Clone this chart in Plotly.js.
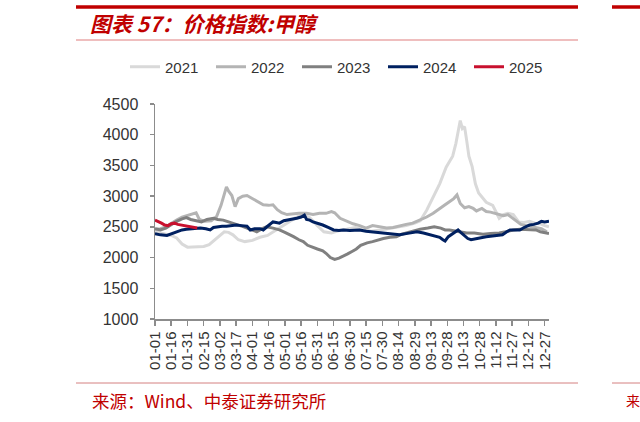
<!DOCTYPE html>
<html><head><meta charset="utf-8">
<script src="https://cdn.plot.ly/plotly-3.0.1.min.js"></script>
<style>html,body{margin:0;padding:0;background:#fff}#c{width:640px;height:422px}</style>
</head><body><div id="c"></div>
<script>
// day-of-year offsets (0 = 01-01)
const tickDays = [0,15,30,45,60,75,90,105,120,135,150,165,180,195,210,225,240,255,270,285,300,315,330,345,360];
const tickLabels = ["01-01","01-16","01-31","02-15","03-02","03-17","04-01","04-16","05-01","05-16","05-31","06-15","06-30","07-15","07-30","08-14","08-29","09-13","09-28","10-13","10-28","11-12","11-27","12-12","12-27"];
const seriesNames = ["2021","2022","2023","2024","2025"];

const d21 = [0,5,10,15,20,25,30,37,45,50,55,60,64,68,72,77,83,90,97,104,111,117,124,130,137,143,150,156,163,170,177,185,192,200,208,216,224,232,240,245,251,257,263,269,275,278,280,282,284,286,288,290,293,296,299,302,306,312,316,318,322,326,331,336,341,346,351,356,360,364];
const v21 = [2420,2400,2390,2360,2320,2220,2170,2180,2180,2210,2290,2370,2420,2410,2370,2290,2260,2280,2330,2360,2440,2500,2590,2650,2700,2650,2520,2420,2400,2440,2460,2490,2450,2430,2450,2470,2500,2520,2560,2600,2770,2980,3200,3470,3650,3860,4050,4230,4100,4130,3900,3650,3480,3200,3050,2980,2900,2850,2700,2640,2700,2720,2700,2580,2570,2590,2560,2550,2520,2500];

const d22 = [0,5,10,15,20,25,30,35,38,41,46,52,57,61,64,66,68,71,74,77,81,85,89,93,97,100,105,109,113,117,122,127,133,140,146,152,158,163,166,171,177,183,189,195,201,208,214,220,226,232,238,245,251,257,263,268,272,276,279,282,286,290,294,297,302,306,310,314,318,322,326,330,334,338,343,348,353,357,362];
const v22 = [2460,2470,2500,2560,2610,2660,2690,2710,2730,2620,2590,2600,2670,2850,3050,3150,3080,3010,2830,2960,3000,3010,2970,2930,2880,2860,2850,2860,2780,2730,2700,2710,2720,2720,2700,2720,2720,2750,2730,2640,2590,2550,2520,2480,2520,2500,2480,2490,2520,2540,2560,2610,2660,2720,2790,2860,2910,2960,3020,2880,2810,2830,2800,2760,2800,2750,2740,2720,2690,2680,2700,2650,2600,2540,2520,2500,2480,2470,2420];

const d23 = [0,5,10,15,20,25,29,33,38,43,48,54,58,63,68,72,77,82,88,94,99,103,109,115,120,125,128,133,137,141,145,150,155,158,162,166,170,174,178,182,186,190,196,201,206,211,217,223,228,232,238,245,252,258,264,268,272,278,284,288,295,303,310,318,324,331,337,343,348,352,356,360,364];
const v23 = [2470,2450,2480,2540,2590,2630,2650,2620,2600,2580,2620,2640,2620,2610,2580,2560,2530,2500,2460,2420,2470,2500,2480,2450,2410,2370,2340,2290,2260,2200,2170,2140,2110,2070,2000,1970,1990,2020,2060,2100,2140,2200,2240,2260,2290,2310,2330,2340,2380,2400,2420,2460,2480,2500,2480,2450,2450,2430,2410,2400,2400,2380,2390,2400,2420,2450,2460,2460,2450,2450,2420,2400,2390];

const d24 = [0,5,11,16,20,25,29,35,42,47,51,54,57,62,66,70,75,80,85,88,92,97,100,104,109,112,115,119,122,127,131,135,138,140,143,146,150,155,160,165,170,174,180,186,189,195,201,207,214,220,226,232,237,242,248,254,259,263,266,268,271,274,277,280,283,286,289,292,296,300,306,312,317,321,325,328,332,337,341,346,350,354,357,360,364];
const v24 = [2390,2370,2360,2390,2420,2450,2460,2470,2480,2470,2450,2490,2500,2510,2510,2520,2530,2520,2510,2450,2470,2470,2450,2510,2580,2570,2560,2600,2610,2620,2640,2660,2690,2620,2610,2580,2560,2530,2490,2450,2440,2450,2440,2440,2450,2430,2420,2410,2400,2380,2370,2390,2410,2420,2400,2370,2350,2330,2290,2270,2340,2380,2420,2450,2400,2360,2310,2290,2300,2320,2340,2350,2360,2370,2420,2450,2450,2450,2490,2530,2540,2560,2590,2580,2590];

const d25 = [0,3,6,9,12,15,18,21,24,27,30,33,36,39];
const v25 = [2610,2590,2560,2530,2520,2550,2560,2540,2530,2510,2500,2490,2490,2480];

const colors = ["#d9d9d9","#b4b4b4","#808080","#002060","#c8102e"];
const xs = [d21,d22,d23,d24,d25];
const ys = [v21,v22,v23,v24,v25];

const traces = seriesNames.map((n,i)=>({
  type:'scatter', mode:'lines', name:n, x:xs[i], y:ys[i],
  line:{color:colors[i], width:3}, hoverinfo:'skip'
}));

// pixel helpers for decorations (plot area: x 155..549, y 104..319)
const L=155, R=549, T=104, B=319;
const px = p => (p-L)/(R-L);
const py = p => (B-p)/(B-T);
const hline = (x0,x1,y,color,w)=>({type:'line',xref:'paper',yref:'paper',x0:px(x0),x1:px(x1),y0:py(y),y1:py(y),line:{color:color,width:w}});

const layout = {
  width:640, height:422,
  margin:{l:L, r:640-R, t:T, b:422-B},
  paper_bgcolor:'#fff', plot_bgcolor:'#fff',
  font:{family:'"Liberation Sans", Arial, sans-serif', color:'#333'},
  title:{text:'图表 57：价格指数:甲醇', x:90/640, xanchor:'left', y:1-25/422, yanchor:'middle',
    font:{family:'"Noto Sans CJK SC", sans-serif', size:21, color:'#c00000', weight:700, style:'italic'}},
  showlegend:true,
  legend:{orientation:'h', x:px(125), xanchor:'left', y:py(67), yanchor:'middle',
    entrywidth:41, entrywidthmode:'pixels',
    font:{size:15, color:'#333'}, bgcolor:'rgba(0,0,0,0)'},
  xaxis:{range:[0,364], tickmode:'array', tickvals:tickDays, ticktext:tickLabels, tickangle:-90,
    showgrid:false, zeroline:false, showline:true, linecolor:'#8c8c8c', linewidth:1.5,
    ticks:'outside', ticklen:5, tickcolor:'#8c8c8c', tickwidth:1.5,
    tickfont:{size:15, color:'#333'}},
  yaxis:{range:[1000,4500], dtick:500, tick0:1000, showgrid:false, zeroline:false,
    showline:true, linecolor:'#8c8c8c', linewidth:1.5, ticks:'outside', ticklen:4,
    tickcolor:'#8c8c8c', tickwidth:1.5, ticklabelstandoff:8, tickfont:{size:16, color:'#333'}},
  shapes:[
    hline(76,578,7,'#c00000',3.5),
    hline(612,640,7,'#c00000',3.5),
    hline(76,578,40,'#eaa8a8',1.5),
    hline(76,578,383,'#d48080',1),
    hline(612,640,383,'#d48080',1)
  ],
  annotations:[
    {text:'来源：Wind、中泰证券研究所', xref:'paper', yref:'paper', x:px(90), y:py(400), xanchor:'left', yanchor:'middle',
     showarrow:false, font:{family:'"Noto Sans CJK SC", sans-serif', size:17.5, color:'#c00000'}},
    {text:'来', xref:'paper', yref:'paper', x:px(624), y:py(400), xanchor:'left', yanchor:'middle',
     showarrow:false, font:{family:'"Noto Sans CJK SC", sans-serif', size:14, color:'#c00000'}}
  ]
};
Plotly.newPlot('c', traces, layout, {staticPlot:true, displayModeBar:false});
</script></body></html>
